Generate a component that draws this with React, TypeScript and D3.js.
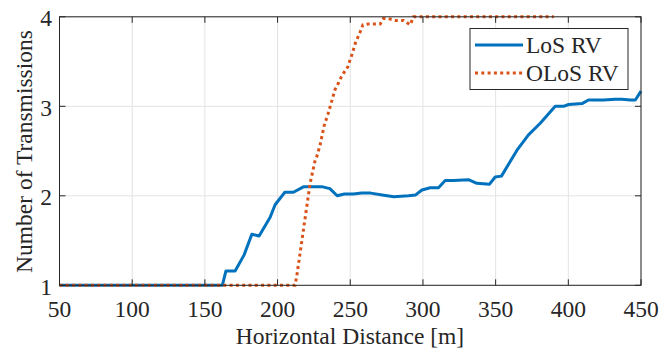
import React from "react";
import * as d3 from "d3";

const losX = [50, 162, 164.5, 170.8, 177, 182.3, 187.3, 194.9, 198.3, 205, 210.9, 217.8, 231, 236, 241, 246, 252, 258, 264, 272, 280, 290, 295, 299.3, 305, 310.7, 315.3, 321, 331.3, 337.1, 345.8, 349.7, 354, 364.7, 372.6, 380.7, 391, 396.7, 400.2, 409.4, 413.9, 424.2, 432.3, 436.9, 442.6, 446.1, 450];
const losY = [1, 1, 1.16, 1.16, 1.34, 1.57, 1.55, 1.76, 1.9, 2.04, 2.04, 2.1, 2.1, 2.08, 2.0, 2.02, 2.02, 2.03, 2.03, 2.01, 1.99, 2.0, 2.01, 2.065, 2.09, 2.09, 2.17, 2.17, 2.18, 2.14, 2.13, 2.21, 2.22, 2.51, 2.68, 2.81, 3.0, 3.0, 3.02, 3.03, 3.07, 3.07, 3.08, 3.08, 3.07, 3.07, 3.17];

const olosX = [50, 212, 213.2, 215.5, 217.8, 220.1, 222.4, 225.9, 227, 229.3, 232, 234.6, 237.3, 239.6, 241.9, 243.3, 245.8, 248.3, 249.5, 251, 253.6, 256.8, 258.7, 262.5, 270.6, 272.8, 276.3, 280.9, 286.6, 291.2, 293.5, 390];
const olosY = [1, 1, 1.1, 1.36, 1.62, 1.88, 2.14, 2.4, 2.44, 2.57, 2.78, 2.91, 3.06, 3.19, 3.26, 3.31, 3.38, 3.44, 3.5, 3.57, 3.71, 3.83, 3.91, 3.92, 3.92, 3.98, 3.98, 3.96, 3.96, 3.91, 4.0, 4.0];

const xTicks = [50, 100, 150, 200, 250, 300, 350, 400, 450];
const yTicks = [1, 2, 3, 4];
const seriesNames = ["LoS RV", "OLoS RV"];

const W = 660;
const H = 349;
const L = 59.5, R = 641, T = 16.8, B = 285.3;
const FONT = '"Liberation Serif", "Times New Roman", serif';
const FS = 23.5;
const AX = "#262626";
const BLUE = "#0072BD";
const ORANGE = "#D95319";

export default function App() {
  const x = d3.scaleLinear().domain([50, 450]).range([L, R]);
  const y = d3.scaleLinear().domain([1, 4]).range([B, T]);
  const line = d3
    .line<[number, number]>()
    .x((d) => x(d[0]))
    .y((d) => y(d[1]));
  const los = losX.map((v, i) => [v, losY[i]] as [number, number]);
  const olos = olosX.map((v, i) => [v, olosY[i]] as [number, number]);
  const tickLen = 6;

  return (
    <svg
      width={W}
      height={H}
      style={{ position: "fixed", left: 0, top: 0, background: "#fff" }}
    >
      <rect x={0} y={0} width={W} height={H} fill="#fff" />
      {/* grid */}
      {xTicks.map((t) => (
        <line key={"gx" + t} x1={x(t)} x2={x(t)} y1={T} y2={B} stroke="#e3e3e3" strokeWidth={1} />
      ))}
      {yTicks.map((t) => (
        <line key={"gy" + t} x1={L} x2={R} y1={y(t)} y2={y(t)} stroke="#e3e3e3" strokeWidth={1} />
      ))}
      {/* series */}
      <path d={line(los) || ""} fill="none" stroke={BLUE} strokeWidth={3} strokeLinejoin="round" />
      <path d={line(olos) || ""} fill="none" stroke={ORANGE} strokeWidth={3} strokeDasharray="3 3.3" />
      {/* box */}
      <rect x={L} y={T} width={R - L} height={B - T} fill="none" stroke={AX} strokeWidth={1} />
      {/* ticks */}
      {xTicks.map((t) => (
        <g key={"tx" + t}>
          <line x1={x(t)} x2={x(t)} y1={B} y2={B - tickLen} stroke={AX} />
          <line x1={x(t)} x2={x(t)} y1={T} y2={T + tickLen} stroke={AX} />
          <text x={x(t)} y={316.5} textAnchor="middle" fontFamily={FONT} fontSize={FS} fill={AX}>
            {t}
          </text>
        </g>
      ))}
      {yTicks.map((t) => (
        <g key={"ty" + t}>
          <line x1={L} x2={L + tickLen} y1={y(t)} y2={y(t)} stroke={AX} />
          <line x1={R} x2={R - tickLen} y1={y(t)} y2={y(t)} stroke={AX} />
          <text x={52} y={y(t) + 1.5} textAnchor="end" dominantBaseline="central" fontFamily={FONT} fontSize={FS} fill={AX}>
            {t}
          </text>
        </g>
      ))}
      {/* axis labels */}
      <text x={350} y={344} textAnchor="middle" fontFamily={FONT} fontSize={FS} fill={AX}>
        Horizontal Distance [m]
      </text>
      <text
        transform={`translate(31.5, ${(T + B) / 2 + 0.5}) rotate(-90)`}
        textAnchor="middle"
        fontFamily={FONT}
        fontSize={FS}
        fill={AX}
      >
        Number of Transmissions
      </text>
      {/* legend */}
      <rect x={470} y={28.5} width={158} height={61} fill="#fff" stroke={AX} strokeWidth={1} />
      <line x1={475} x2={523} y1={45} y2={45} stroke={BLUE} strokeWidth={3} />
      <line x1={475} x2={523} y1={73} y2={73} stroke={ORANGE} strokeWidth={3} strokeDasharray="3 3.3" />
      <text x={526} y={45} dominantBaseline="central" fontFamily={FONT} fontSize={FS} fill={AX}>
        {seriesNames[0]}
      </text>
      <text x={526} y={73} dominantBaseline="central" fontFamily={FONT} fontSize={FS} fill={AX}>
        {seriesNames[1]}
      </text>
    </svg>
  );
}
